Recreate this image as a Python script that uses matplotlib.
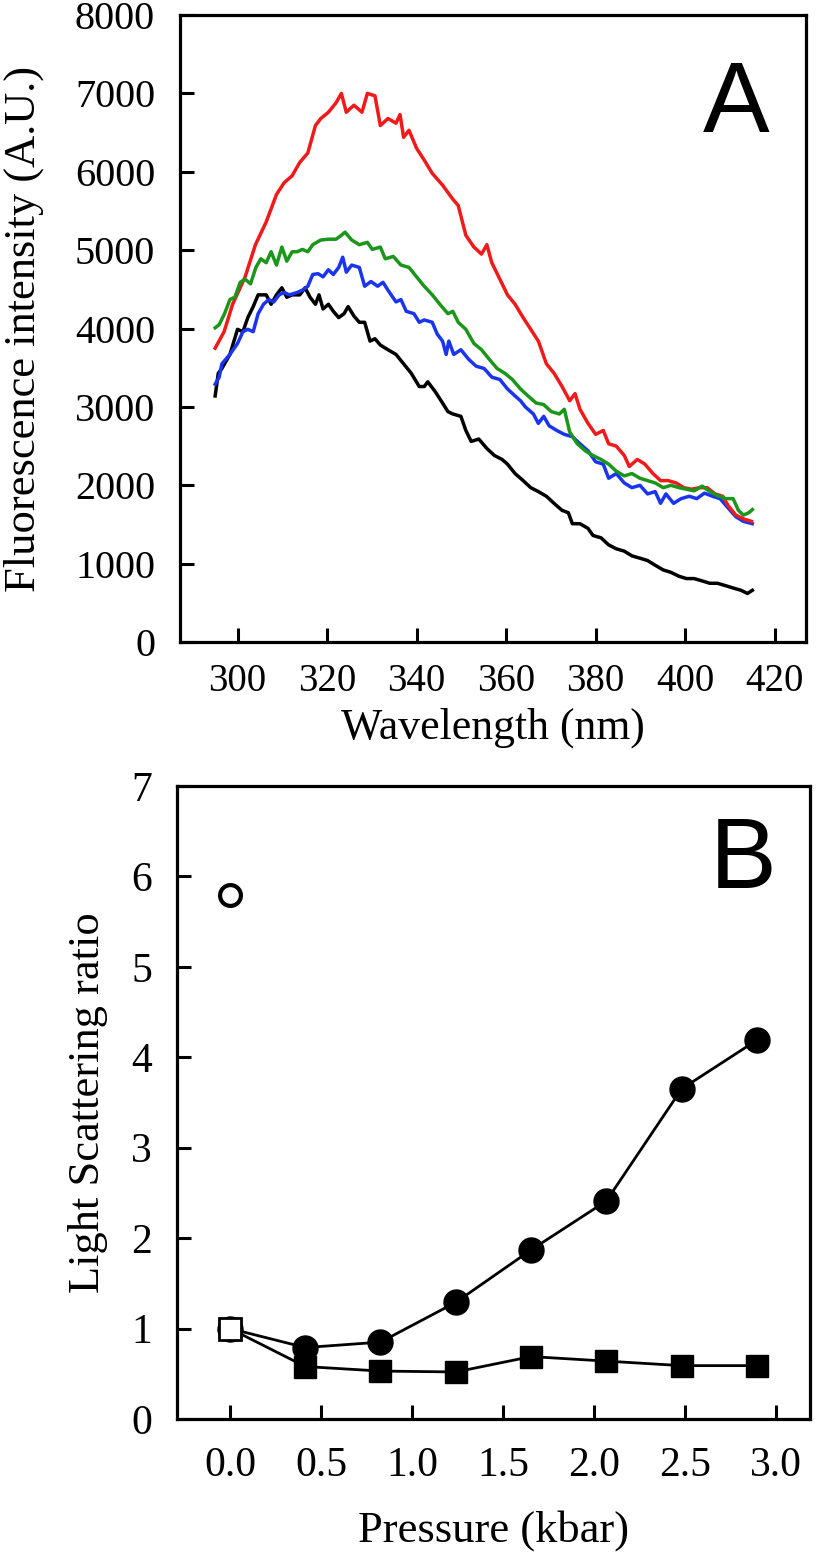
import matplotlib
matplotlib.use("Agg")
import matplotlib.pyplot as plt

# panel A : emission spectra
red_wl = [295.0, 297.0, 298.9, 301.7, 304.0, 306.4, 308.7, 310.4, 312.2, 313.9, 315.7, 317.4, 318.6,
          320.3, 322.0, 323.2, 324.3, 326.0, 327.8, 329.0, 330.7, 331.9, 333.6, 335.4, 336.3, 337.1,
          338.3, 340.0, 341.7, 343.5, 345.8, 348.1, 349.3, 351.0, 352.8, 354.5, 355.7, 356.8, 358.6,
          360.3, 362.0, 363.8, 365.5, 367.2, 369.0, 370.7, 372.5, 374.2, 375.4, 376.5, 378.3, 380.0,
          381.7, 382.9, 384.6, 386.4, 387.5, 389.3, 391.0, 392.8, 394.5, 396.2, 398.0, 399.7, 401.4,
          403.2, 404.9, 406.7, 408.4, 409.6, 411.3, 413.1, 414.8]
red_int = [3750, 3960, 4310, 4660, 5070, 5360, 5710, 5860, 5950, 6120, 6240, 6590, 6680,
           6760, 6880, 7000, 6760, 6850, 6760, 7000, 6970, 6590, 6680, 6620, 6730, 6440,
           6530, 6300, 6150, 5980, 5830, 5650, 5570, 5190, 5040, 4950, 5070, 4840, 4630,
           4430, 4310, 4140, 3990, 3840, 3550, 3430, 3260, 3080, 3170, 2970, 2790, 2650,
           2700, 2530, 2500, 2380, 2240, 2330, 2270, 2150, 2060, 2060, 2030, 1970, 1950,
           1970, 1970, 1890, 1860, 1740, 1620, 1570, 1540]

green_wl = [295.0, 295.9, 297.1, 298.3, 299.4, 300.6, 301.7, 302.9, 304.1, 305.2, 306.4, 307.5, 308.7,
            309.9, 311.0, 312.2, 313.3, 314.5, 315.7, 316.8, 318.6, 320.3, 322.0, 323.2, 324.0, 325.5,
            327.2, 329.0, 330.1, 331.9, 333.0, 334.8, 336.5, 338.3, 340.0, 341.7, 343.5, 345.2, 347.0,
            348.1, 349.3, 351.0, 352.8, 354.5, 356.2, 358.0, 359.7, 361.4, 363.2, 364.9, 366.7, 368.4,
            370.1, 371.9, 373.0, 374.2, 375.9, 377.7, 379.4, 381.2, 382.9, 384.6, 386.4, 388.1, 389.9,
            391.6, 393.3, 395.1, 396.8, 398.6, 400.3, 402.0, 403.8, 405.5, 407.2, 409.0, 410.7, 411.9,
            413.0, 414.2, 415.0]
green_int = [4010, 4050, 4190, 4370, 4400, 4590, 4630, 4570, 4780, 4890, 4840, 4980, 4810,
             5040, 4860, 4980, 4980, 5010, 4980, 5070, 5130, 5140, 5140, 5190, 5230, 5130,
             5070, 5100, 5010, 5040, 4890, 4920, 4810, 4780, 4660, 4540, 4430, 4310, 4190,
             4220, 4080, 3990, 3810, 3730, 3610, 3490, 3430, 3350, 3230, 3140, 3050, 3030,
             2940, 2910, 2970, 2680, 2530, 2440, 2380, 2330, 2270, 2180, 2120, 2150, 2090,
             2060, 2030, 1970, 2000, 1970, 1950, 1930, 1990, 1920, 1870, 1830, 1830, 1680,
             1620, 1650, 1690]

blue_wl = [295.0, 295.9, 296.5, 298.3, 300.0, 301.2, 302.3, 303.5, 304.6, 305.8, 307.0, 308.1, 309.3,
           310.4, 311.6, 313.3, 314.5, 315.7, 316.8, 318.0, 319.1, 320.3, 321.4, 322.6, 323.5, 324.3,
           325.5, 327.2, 328.4, 329.8, 331.3, 332.5, 333.6, 335.4, 336.5, 337.7, 339.4, 340.6, 341.7,
           343.5, 344.6, 345.8, 346.6, 347.2, 348.3, 349.9, 351.6, 353.3, 355.1, 356.8, 358.6, 360.3,
           362.0, 363.2, 364.3, 366.1, 367.2, 368.4, 369.6, 371.3, 373.0, 374.8, 376.5, 378.3, 380.0,
           381.7, 382.9, 384.6, 386.4, 388.1, 389.9, 391.6, 393.3, 394.5, 395.7, 397.4, 399.1, 400.9,
           402.6, 404.3, 406.1, 407.8, 409.6, 411.3, 413.0, 415.0]
blue_int = [3290, 3380, 3550, 3670, 3810, 3960, 3990, 3960, 4190, 4310, 4370, 4340, 4430,
            4460, 4430, 4460, 4490, 4540, 4690, 4700, 4660, 4750, 4690, 4780, 4910, 4720,
            4810, 4780, 4540, 4600, 4540, 4590, 4490, 4340, 4370, 4220, 4190, 4080, 4110,
            4080, 3930, 3840, 3670, 3840, 3670, 3730, 3610, 3520, 3490, 3380, 3350, 3230,
            3140, 3080, 3000, 2910, 2790, 2880, 2760, 2700, 2650, 2620, 2530, 2440, 2300,
            2270, 2090, 2150, 2030, 1970, 2000, 1890, 1920, 1770, 1890, 1770, 1830, 1860,
            1830, 1900, 1860, 1830, 1710, 1600, 1540, 1510]

black_wl = [295.0, 295.7, 296.5, 298.3, 300.0, 301.2, 302.3, 303.5, 304.6, 306.4, 307.5, 308.7, 309.9,
            311.0, 312.2, 313.9, 315.1, 316.2, 317.4, 318.2, 319.1, 320.3, 321.4, 322.6, 323.8, 324.7,
            326.0, 327.2, 328.4, 329.6, 330.7, 331.9, 333.6, 335.4, 337.1, 338.8, 340.6, 341.7, 342.5,
            344.1, 345.8, 347.0, 348.1, 349.9, 351.0, 352.2, 353.9, 355.7, 357.4, 359.1, 360.3, 362.0,
            363.8, 365.5, 367.2, 369.0, 370.7, 372.5, 373.9, 374.8, 376.5, 378.3, 379.4, 381.2, 382.9,
            384.6, 386.4, 388.1, 389.9, 391.6, 393.3, 395.1, 396.8, 398.6, 400.3, 402.0, 403.8, 405.5,
            407.2, 409.0, 410.7, 412.5, 413.9, 415.0]
black_int = [3140, 3430, 3490, 3670, 3990, 3960, 4140, 4280, 4430, 4430, 4310, 4430, 4520,
             4400, 4430, 4430, 4520, 4400, 4310, 4430, 4250, 4310, 4220, 4140, 4190, 4280,
             4160, 4080, 4080, 3840, 3870, 3790, 3730, 3670, 3550, 3430, 3260, 3260, 3320,
             3200, 3050, 2940, 2910, 2880, 2700, 2560, 2590, 2470, 2380, 2330, 2270, 2150,
             2060, 1970, 1920, 1860, 1770, 1680, 1650, 1510, 1510, 1450, 1360, 1330, 1240,
             1190, 1160, 1100, 1070, 1040, 980, 920, 890, 840, 810, 810, 780, 750,
             750, 720, 690, 660, 620, 660]

# panel B : light scattering ratio vs pressure
pressure = [0.0, 0.414, 0.827, 1.241, 1.655, 2.068, 2.482, 2.896]
ratio_circles = [1.0, 0.79, 0.85, 1.29, 1.87, 2.41, 3.65, 4.19]
ratio_squares = [1.0, 0.58, 0.53, 0.52, 0.69, 0.64, 0.59, 0.59]
open_circle_p, open_circle_r = [0.0], [5.79]
open_square_p, open_square_r = [0.0], [0.99]

serif = ["Liberation Serif", "DejaVu Serif"]
plt.rcParams["font.family"] = serif

fig = plt.figure(figsize=(8.16, 15.52), dpi=100)

# ---- panel A
ax1 = fig.add_axes([0.2206, 0.5863, 0.7672, 0.4040])
ax1.plot(black_wl, black_int, color="black", lw=2.5)
ax1.plot(blue_wl, blue_int, color="#1a35f0", lw=2.5)
ax1.plot(red_wl, red_int, color="#f01a1a", lw=2.5)
ax1.plot(green_wl, green_int, color="#1b961b", lw=2.5)
ax1.set_xlim(287.15, 427.0)
ax1.set_ylim(0, 8000)
ax1.set_xticks([300, 320, 340, 360, 380, 400, 420])
ax1.set_yticks(range(0, 8001, 1000))
ax1.set_xlabel("Wavelength (nm)", fontsize=31.5, va="center")
ax1.xaxis.set_label_coords(0.5, -0.137)
ax1.set_ylabel("Fluorescence intensity (A.U.)", fontsize=32, va="center")
ax1.yaxis.set_label_coords(-0.249, 0.5)
ax1.text(0.888, 0.813, "A", transform=ax1.transAxes, fontsize=72, ha="center",
         va="baseline", family="Liberation Sans")

# ---- panel B
ax2 = fig.add_axes([0.2169, 0.0857, 0.7757, 0.4079])
ax2.plot(pressure, ratio_circles, color="black", lw=2, marker="o", ms=18, mfc="black", zorder=3)
ax2.plot(pressure, ratio_squares, color="black", lw=2, marker="s", ms=16, mfc="black", zorder=3)
ax2.plot(open_square_p, open_square_r, ls="none", marker="s", ms=16, mfc="white", mec="black",
         mew=2, zorder=4)
ax2.plot(open_circle_p, open_circle_r, ls="none", marker="o", ms=15, mfc="white", mec="black",
         mew=3, zorder=4)
ax2.set_xlim(-0.291, 3.187)
ax2.set_ylim(0, 7)
ax2.set_xticks([0.0, 0.5, 1.0, 1.5, 2.0, 2.5, 3.0])
ax2.set_xticklabels(["0.0", "0.5", "1.0", "1.5", "2.0", "2.5", "3.0"])
ax2.set_yticks(range(0, 8))
ax2.set_xlabel("Pressure (kbar)", fontsize=32, va="center")
ax2.xaxis.set_label_coords(0.5, -0.176)
ax2.set_ylabel("Light Scattering ratio", fontsize=32, va="center")
ax2.yaxis.set_label_coords(-0.141, 0.5)
ax2.text(0.894, 0.839, "B", transform=ax2.transAxes, fontsize=72, ha="center",
         va="baseline", family="Liberation Sans")

for ax in (ax1, ax2):
    for sp in ax.spines.values():
        sp.set_linewidth(2.3)
    ax.tick_params(direction="in", length=10, width=2.2, top=False, right=False)

ax1.tick_params(axis="x", labelsize=28, pad=15)
ax1.tick_params(axis="y", labelsize=29, pad=18)
ax2.tick_params(axis="x", labelsize=30, pad=20)
ax2.tick_params(axis="y", labelsize=30, pad=18)

fig.savefig("out.png", dpi=100)
